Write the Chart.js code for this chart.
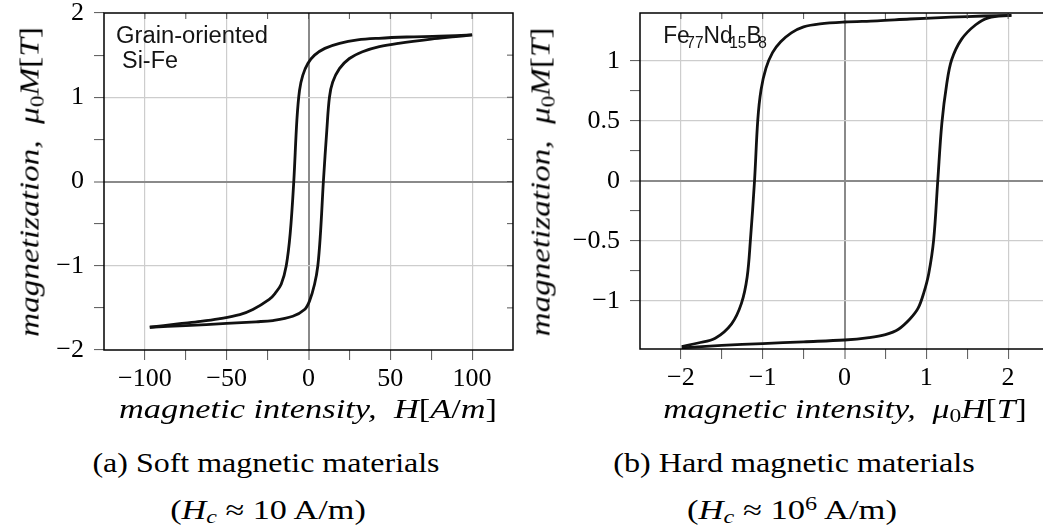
<!DOCTYPE html>
<html>
<head>
<meta charset="utf-8">
<script src="https://cdn.jsdelivr.net/npm/chart.js@4.4.1/dist/chart.umd.min.js"></script>
<style>
    html, body { margin: 0; padding: 0; background: #fff; }
    body { width: 1043px; height: 529px; overflow: hidden; position: relative; font-family: 'Liberation Serif', serif; }
    .caixa { position: absolute; top: 0; height: 430px; }
    .txt { position: absolute; white-space: nowrap; line-height: 1; color: #000; font-size: 27px; }
    .txt sub, .txt sup { font-size: 0.7em; line-height: 0; }
    .txt sub { vertical-align: -0.25em; }
    .txt sup { vertical-align: 0.45em; }
    .sans { font-family: 'Liberation Sans', Arial, sans-serif; color: #141414; font-size: 23px; }
    .sans sub { font-size: 0.68em; vertical-align: -0.32em; margin-left: -0.22em; }
</style>
</head>
<body>
<div class="caixa" style="left:0; width:520px;"><canvas id="graficoMole"></canvas></div>
<div class="caixa" style="left:520px; width:540px;"><canvas id="graficoDuro"></canvas></div>

<!-- anotações dentro dos gráficos -->
<div class="txt sans" data-cx="192" data-cy="35" data-w="152">Grain-oriented</div>
<div class="txt sans" data-cx="150" data-cy="60" data-w="56">Si-Fe</div>
<div class="txt sans" data-cx="715" data-cy="35" data-w="104">Fe<sub>77</sub>Nd<sub>15</sub>B<sub>8</sub></div>

<!-- títulos dos eixos -->
<div class="txt" data-cx="308" data-cy="409" data-w="378"><i>magnetic intensity,</i>&nbsp; <i>H</i>[<i>A</i>/<i>m</i>]</div>
<div class="txt" data-cx="845" data-cy="409" data-w="364"><i>magnetic intensity,</i>&nbsp; <i>μ</i><sub>0</sub><i>H</i>[<i>T</i>]</div>
<div class="txt" data-cx="30" data-cy="182" data-w="310" data-rot="1"><i>magnetization,</i>&nbsp; <i>μ</i><sub>0</sub><i>M</i>[<i>T</i>]</div>
<div class="txt" data-cx="541" data-cy="182" data-w="309" data-rot="1"><i>magnetization,</i>&nbsp; <i>μ</i><sub>0</sub><i>M</i>[<i>T</i>]</div>

<!-- legendas -->
<div class="txt" data-cx="266" data-cy="463" data-w="347">(a) Soft magnetic materials</div>
<div class="txt" data-cx="268" data-cy="510" data-w="195">(<i>H</i><sub><i>c</i></sub> ≈ 10 A/m)</div>
<div class="txt" data-cx="794" data-cy="463" data-w="362">(b) Hard magnetic materials</div>
<div class="txt" data-cx="792" data-cy="510" data-w="210">(<i>H</i><sub><i>c</i></sub> ≈ 10<sup>6</sup> A/m)</div>

<script>
// Si-Fe (material mole): ramo superior (H descendo) e ramo inferior (H subindo)
const campoMoleSup = [100, 80, 60, 43, 30, 19, 10, 3.7, -0.4, -3.5, -5.5, -7.1, -9.0, -11.2, -13.6, -16.7, -20.5, -24, -34, -42, -55, -66, -80, -97];
const magMoleSup   = [1.74, 1.725, 1.715, 1.70, 1.68, 1.64, 1.58, 1.50, 1.40, 1.26, 1.08, 0.73, 0, -0.62, -1.00, -1.22, -1.33, -1.40, -1.52, -1.58, -1.63, -1.66, -1.69, -1.73];
const campoMoleInf = [-97, -75, -50, -32, -21.8, -9.6, -2.4, 0.6, 3.7, 5.7, 7.3, 9.1, 11.2, 12.8, 14.8, 18.9, 25, 33, 43.3, 55, 75, 90, 100];
const magMoleInf   = [-1.73, -1.71, -1.685, -1.665, -1.65, -1.60, -1.52, -1.42, -1.22, -1.00, -0.62, 0, 0.61, 1.00, 1.18, 1.34, 1.46, 1.54, 1.60, 1.64, 1.69, 1.72, 1.74];

// Fe77Nd15B8 (material duro)
const campoDuroSup = [2.04, 1.7, 1.3, 0.8, 0.4, 0, -0.3, -0.5, -0.65, -0.78, -0.88, -0.96, -1.02, -1.06, -1.10, -1.15, -1.19, -1.26, -1.38, -1.58, -1.79, -1.99];
const magDuroSup   = [1.38, 1.375, 1.365, 1.35, 1.335, 1.325, 1.31, 1.285, 1.235, 1.16, 1.07, 0.94, 0.76, 0.51, 0, -0.49, -0.80, -1.02, -1.19, -1.31, -1.35, -1.38];
const campoDuroInf = [-1.99, -1.5, -1.0, -0.5, 0, 0.3, 0.5, 0.66, 0.8, 0.9, 0.97, 1.03, 1.09, 1.14, 1.19, 1.25, 1.31, 1.43, 1.60, 1.76, 2.04];
const magDuroInf   = [-1.39, -1.37, -1.355, -1.34, -1.325, -1.305, -1.28, -1.235, -1.15, -1.06, -0.93, -0.77, -0.49, 0, 0.48, 0.81, 1.01, 1.18, 1.30, 1.36, 1.38];

// rótulos dos eixos
const rotulosMoleX = [-100, -50, 0, 50, 100];
const rotulosMoleY = [-2, -1, 0, 1, 2];
const rotulosDuroX = [-2, -1, 0, 1, 2];
const rotulosDuroY = [-1, -0.5, 0, 0.5, 1];

Chart.defaults.font.family = "'Liberation Serif', serif";
Chart.defaults.font.size = 26;
Chart.defaults.color = '#000';

const quase = (a, b) => Math.abs(a - b) < 1e-6;

function formatar(v) {
    const n = +Math.abs(v).toFixed(2);
    return v < -1e-9 ? '\u2212' + n : String(n);
}

function pontos(xs, ys) {
    return xs.map((x, i) => ({ x: x, y: ys[i] }));
}

function configEixo(min, max, passo, rotulos, tamanho, ehX) {
    const naBorda = v => quase(v, min) || quase(v, max);
    const ehRotulo = v => rotulos.some(r => quase(r, v));
    return {
        type: 'linear',
        min: min,
        max: max,
        afterFit: s => {
            // tamanho fixo e sem folga extra dos rótulos
            if (ehX) { s.height = tamanho; s.paddingLeft = 0; s.paddingRight = 0; }
            else { s.width = tamanho; s.paddingTop = 0; s.paddingBottom = 0; }
        },
        ticks: {
            stepSize: passo,
            autoSkip: false,
            maxRotation: 0,
            padding: ehX ? 4 : 10,
            color: '#000',
            callback: v => ehRotulo(v) ? formatar(v) : ''
        },
        grid: {
            tickLength: 10,
            tickWidth: 1,
            color: c => {
                const v = c.tick.value;
                if (naBorda(v)) return 'rgba(0,0,0,0)';
                if (quase(v, 0)) return '#8a8a8a';
                return ehRotulo(v) ? '#cdcdcd' : 'rgba(0,0,0,0)';
            },
            lineWidth: c => quase(c.tick.value, 0) ? 2 : 1.2,
            tickColor: c => (naBorda(c.tick.value) && !ehRotulo(c.tick.value)) ? 'rgba(0,0,0,0)' : '#555'
        },
        border: { display: false }
    };
}

// moldura e marcas internas (topo e lado direito)
const moldura = {
    id: 'moldura',
    afterDraw(chart) {
        const { ctx, chartArea: a, scales } = chart;
        ctx.save();
        ctx.strokeStyle = '#555';
        ctx.lineWidth = 1;
        scales.x.ticks.forEach(t => {
            const px = scales.x.getPixelForValue(t.value);
            if (px <= a.left + 1 || px >= a.right - 1) return;
            ctx.beginPath(); ctx.moveTo(px, a.top); ctx.lineTo(px, a.top + 6); ctx.stroke();
        });
        scales.y.ticks.forEach(t => {
            const py = scales.y.getPixelForValue(t.value);
            if (py <= a.top + 1 || py >= a.bottom - 1) return;
            ctx.beginPath(); ctx.moveTo(a.right, py); ctx.lineTo(a.right - 6, py); ctx.stroke();
        });
        ctx.strokeStyle = '#000';
        ctx.lineWidth = 1.5;
        ctx.strokeRect(a.left, a.top, a.right - a.left, a.bottom - a.top);
        ctx.restore();
    }
};

function ramo(xs, ys) {
    return {
        data: pontos(xs, ys),
        showLine: true,
        borderColor: '#111',
        borderWidth: 2.8,
        pointRadius: 0,
        tension: 0.35
    };
}

function criarGrafico(id, ramos, eixoX, eixoY, padding) {
    return new Chart(document.getElementById(id), {
        type: 'scatter',
        data: { datasets: ramos },
        options: {
            responsive: true,
            maintainAspectRatio: false,
            animation: false,
            layout: { padding: padding },
            plugins: { legend: { display: false }, tooltip: { enabled: false } },
            scales: { x: eixoX, y: eixoY }
        },
        plugins: [moldura]
    });
}

criarGrafico('graficoMole',
    [ramo(campoMoleSup, magMoleSup), ramo(campoMoleInf, magMoleInf)],
    configEixo(-125, 125, 25, rotulosMoleX, 80, true),
    configEixo(-2, 2, 0.5, rotulosMoleY, 104, false),
    { left: 0, top: 13, right: 7, bottom: 0 });

criarGrafico('graficoDuro',
    [ramo(campoDuroSup, magDuroSup), ramo(campoDuroInf, magDuroInf)],
    configEixo(-2.5, 2.5, 0.5, rotulosDuroX, 81, true),
    configEixo(-1.4, 1.4, 0.25, rotulosDuroY, 120, false),
    { left: 0, top: 13, right: 11, bottom: 0 });

// posiciona os textos pelo centro e ajusta a largura
function posicionarTextos() {
    document.querySelectorAll('.txt').forEach(el => {
        const w = +el.dataset.w;
        const escala = w ? w / el.offsetWidth : 1;
        const giro = el.dataset.rot ? ' rotate(-90deg)' : '';
        el.style.left = el.dataset.cx + 'px';
        el.style.top = el.dataset.cy + 'px';
        el.style.transform = `translate(-50%, -50%)${giro} scaleX(${escala.toFixed(3)})`;
    });
}
posicionarTextos();
if (document.fonts) document.fonts.ready.then(posicionarTextos);
</script>
</body>
</html>
